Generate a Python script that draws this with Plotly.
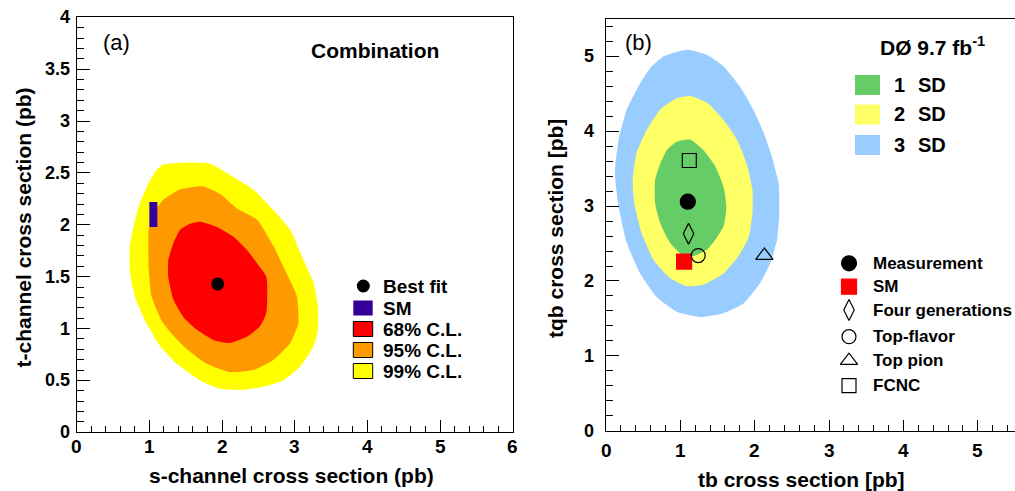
import plotly.graph_objects as go

W, H = 1015, 491
FONT = "Liberation Sans, Arial, Helvetica, sans-serif"

# ---------------- Panel (a): s-channel vs t-channel ----------------
cl99_s = [1.19, 1.50, 1.83, 2.11, 2.43, 2.71, 2.94, 3.12, 3.26, 3.32, 3.32, 3.26, 3.07, 2.84,
          2.57, 2.29, 1.97, 1.70, 1.38, 1.15, 0.96, 0.80, 0.73, 0.73, 0.78, 0.87, 1.01, 1.10]
cl99_t = [2.58, 2.60, 2.59, 2.48, 2.34, 2.14, 1.95, 1.66, 1.44, 1.21, 0.99, 0.83, 0.63, 0.50,
          0.44, 0.41, 0.42, 0.50, 0.66, 0.83, 1.05, 1.31, 1.56, 1.79, 1.98, 2.21, 2.43, 2.53]
cl95_s = [1.42, 1.74, 1.97, 2.20, 2.48, 2.71, 2.89, 3.03, 3.05, 2.94, 2.71, 2.43, 2.11, 1.79,
          1.47, 1.19, 1.03, 0.99, 0.99, 1.05, 1.19]
cl95_t = [2.34, 2.37, 2.30, 2.16, 2.05, 1.79, 1.53, 1.31, 1.05, 0.86, 0.70, 0.60, 0.58, 0.66,
          0.83, 1.05, 1.31, 1.60, 1.95, 2.11, 2.24]
cl68_s = [1.70, 1.93, 2.15, 2.34, 2.48, 2.61, 2.61, 2.52, 2.34, 2.11, 1.88, 1.65, 1.47, 1.33,
          1.26, 1.26, 1.33, 1.42, 1.56]
cl68_t = [2.03, 1.98, 1.89, 1.76, 1.63, 1.50, 1.15, 1.02, 0.92, 0.86, 0.89, 0.99, 1.11, 1.28,
          1.50, 1.66, 1.82, 1.95, 2.01]
best_fit_s = [1.94]
best_fit_t = [1.43]
sm_s_range = [1.00, 1.11]
sm_t_range = [1.98, 2.22]
legend_a_labels = ["Best fit", "SM", "68% C.L.", "95% C.L.", "99% C.L."]
legend_a_colors = ["black", "#330099", "#FF0000", "#FF9900", "#FFFF00"]
a_xticks = [0, 1, 2, 3, 4, 5, 6]
a_xtick_labels = ["0", "1", "2", "3", "4", "5", "6"]
a_yticks = [0, 0.5, 1, 1.5, 2, 2.5, 3, 3.5, 4]
a_ytick_labels = ["0", "0.5", "1", "1.5", "2", "2.5", "3", "3.5", "4"]

# ---------------- Panel (b): tb vs tqb ----------------
sd3_tb = [0.77, 1.09, 1.36, 1.58, 1.80, 1.98, 2.12, 2.23, 2.32, 2.33, 2.30, 2.21, 2.07, 1.85,
          1.58, 1.27, 0.95, 0.68, 0.46, 0.28, 0.17, 0.12, 0.17, 0.28, 0.46, 0.59]
sd3_tqb = [5.00, 5.09, 5.02, 4.87, 4.60, 4.29, 3.98, 3.66, 3.31, 2.91, 2.55, 2.24, 1.97, 1.70,
           1.57, 1.52, 1.59, 1.79, 2.10, 2.51, 2.99, 3.44, 3.89, 4.29, 4.64, 4.84]
sd2_tb = [0.95, 1.13, 1.36, 1.58, 1.76, 1.89, 1.97, 1.97, 1.92, 1.78, 1.58, 1.31, 1.09, 0.86,
          0.64, 0.48, 0.38, 0.36, 0.41, 0.55, 0.73]
sd2_tqb = [4.44, 4.47, 4.38, 4.15, 3.89, 3.57, 3.22, 2.91, 2.59, 2.33, 2.10, 1.95, 1.93, 2.04,
           2.28, 2.64, 3.04, 3.35, 3.71, 4.02, 4.29]
sd1_tb = [0.95, 1.13, 1.31, 1.47, 1.58, 1.62, 1.58, 1.47, 1.36, 1.17, 1.00, 0.86, 0.73, 0.66,
          0.66, 0.73, 0.82]
sd1_tqb = [3.86, 3.89, 3.75, 3.53, 3.26, 2.99, 2.73, 2.55, 2.42, 2.33, 2.37, 2.51, 2.77, 3.04,
           3.35, 3.57, 3.75]
model_names = ["Measurement", "SM", "Four generations", "Top-flavor", "Top pion", "FCNC"]
model_tb = [1.10, 1.05, 1.11, 1.24, 2.13, 1.12]
model_tqb = [3.06, 2.26, 2.63, 2.34, 2.34, 3.61]
model_symbols = ["circle", "square", "diamond-tall-open", "circle-open", "triangle-up-open", "square-open"]
model_colors = ["black", "#FF0000", "black", "black", "black", "black"]
model_sizes = [15, 15, 15, 14, 15, 14]
sd_numbers = ["1", "2", "3"]
sd_unit = "SD"
sd_colors = ["#66CC66", "#FFFF66", "#99CCFF"]
b_xticks = [0, 1, 2, 3, 4, 5]
b_xtick_labels = ["0", "1", "2", "3", "4", "5"]
b_yticks = [0, 1, 2, 3, 4, 5]
b_ytick_labels = ["0", "1", "2", "3", "4", "5"]


def px(x):
    return x / W


def py(y):
    return 1 - y / H


def region(x, y, color, xa, ya):
    return go.Scatter(x=x + x[:1], y=y + y[:1], mode="lines", fill="toself", fillcolor=color,
                      line=dict(width=0, color=color, shape="spline", smoothing=0.5),
                      xaxis=xa, yaxis=ya, hoverinfo="skip", showlegend=False)


fig = go.Figure()

# panel (a)
fig.add_trace(region(cl99_s, cl99_t, legend_a_colors[4], "x", "y"))
fig.add_trace(region(cl95_s, cl95_t, legend_a_colors[3], "x", "y"))
fig.add_trace(region(cl68_s, cl68_t, legend_a_colors[2], "x", "y"))
fig.add_trace(go.Scatter(
    x=[sm_s_range[0], sm_s_range[1], sm_s_range[1], sm_s_range[0], sm_s_range[0]],
    y=[sm_t_range[0], sm_t_range[0], sm_t_range[1], sm_t_range[1], sm_t_range[0]],
    mode="lines", fill="toself", fillcolor=legend_a_colors[1], line=dict(width=0),
    xaxis="x", yaxis="y", showlegend=False, hoverinfo="skip"))
fig.add_trace(go.Scatter(x=best_fit_s, y=best_fit_t, mode="markers",
                         marker=dict(symbol="circle", size=13, color="black"),
                         xaxis="x", yaxis="y", showlegend=False))

# panel (b)
fig.add_trace(region(sd3_tb, sd3_tqb, sd_colors[2], "x2", "y2"))
fig.add_trace(region(sd2_tb, sd2_tqb, sd_colors[1], "x2", "y2"))
fig.add_trace(region(sd1_tb, sd1_tqb, sd_colors[0], "x2", "y2"))
for i in range(len(model_names)):
    fig.add_trace(go.Scatter(
        x=[model_tb[i]], y=[model_tqb[i]], mode="markers",
        marker=dict(symbol=model_symbols[i], size=model_sizes[i], color=model_colors[i],
                    line=dict(width=1.2, color="black" if "open" in model_symbols[i] else model_colors[i])),
        xaxis="x2", yaxis="y2", showlegend=False))

annotations = []
shapes = []


def ann(text, x, y, size, bold=True, angle=0, xanchor="center", xref="paper", yref="paper"):
    annotations.append(dict(text=text, xref=xref, yref=yref,
                            x=px(x) if xref == "paper" else x,
                            y=py(y) if yref == "paper" else y,
                            xanchor=xanchor, yanchor="middle", showarrow=False, textangle=angle,
                            font=dict(family=FONT, size=size, color="black",
                                      weight=700 if bold else 400)))


# tick labels (bold, drawn as text at the axis tick values)
for v, lab in zip(a_xticks, a_xtick_labels):
    ann(lab, v, 446.5, 19, xref="x")
for v, lab in zip(a_yticks, a_ytick_labels):
    ann(lab, 71.5, v, 18, xanchor="right", yref="y")
for v, lab in zip(b_xticks, b_xtick_labels):
    ann(lab, v, 450, 19, xref="x2")
for v, lab in zip(b_yticks, b_ytick_labels):
    ann(lab, 596, v, 18, xanchor="right", yref="y2")

# legend (a)
leg_a_y = [286, 308, 329, 350, 371]
fig.add_trace(go.Scatter(x=[363.3], y=[leg_a_y[0]], mode="markers",
                         marker=dict(symbol="circle", size=13, color="black"),
                         xaxis="x3", yaxis="y3", showlegend=False))
for i in range(1, 5):
    shapes.append(dict(type="rect", xref="paper", yref="paper",
                       x0=px(353.3), x1=px(372.7), y0=py(leg_a_y[i] - 7.5), y1=py(leg_a_y[i] + 7.5),
                       fillcolor=legend_a_colors[i],
                       line=dict(width=1 if i > 1 else 0, color="black")))
for i, lab in enumerate(legend_a_labels):
    ann(lab, 381, leg_a_y[i], 19, xanchor="left")

# legend (b) upper
leg_b1_y = [85, 114.5, 145]
for i in range(3):
    shapes.append(dict(type="rect", xref="paper", yref="paper",
                       x0=px(855), x1=px(880), y0=py(leg_b1_y[i] - 10), y1=py(leg_b1_y[i] + 10),
                       fillcolor=sd_colors[i], line=dict(width=0)))
    ann(sd_numbers[i], 892, leg_b1_y[i], 20, xanchor="left")
    ann(sd_unit, 916, leg_b1_y[i], 20, xanchor="left")

# legend (b) lower
leg_b2_y = [263.3, 286.7, 310, 336.7, 360.7, 385.7]
for i in range(len(model_names)):
    fig.add_trace(go.Scatter(
        x=[849], y=[leg_b2_y[i]], mode="markers",
        marker=dict(symbol=model_symbols[i], size=model_sizes[i], color=model_colors[i],
                    line=dict(width=1.2, color="black" if "open" in model_symbols[i] else model_colors[i])),
        xaxis="x3", yaxis="y3", showlegend=False))
    ann(model_names[i], 870.5, leg_b2_y[i], 17, xanchor="left")

ann("Combination", 309, 50, 21, xanchor="left")
ann("(a)", 101, 43, 22, bold=False, xanchor="left")
ann("(b)", 623, 43, 22, bold=False, xanchor="left")
ann("DØ 9.7 fb<sup>-1</sup>", 878, 46, 21, xanchor="left")
ann("s-channel cross section (pb)", 291.5, 475, 21)
ann("t-channel cross section (pb)", 23, 227.5, 21, angle=-90)
ann("tb cross section [pb]", 801, 479, 21)
ann("tqb cross section [pb]", 556, 229, 21, angle=-90)

common = dict(showgrid=False, zeroline=False, showline=True, linecolor="black", linewidth=1,
              mirror=True, ticks="inside", tickcolor="black", tickwidth=1, fixedrange=True,
              showticklabels=False)

fig.update_layout(
    width=W, height=H,
    margin=dict(l=0, r=0, t=0, b=0),
    paper_bgcolor="white", plot_bgcolor="rgba(0,0,0,0)",
    showlegend=False,
    xaxis=dict(domain=[px(76.7), px(512.7)], range=[0, 6], tickvals=a_xticks, ticklen=12,
               minor=dict(dtick=0.2, ticklen=6, ticks="inside", tickcolor="black"),
               anchor="y", **common),
    yaxis=dict(domain=[py(432.3), py(17.3)], range=[0, 4], tickvals=a_yticks, ticklen=13,
               minor=dict(dtick=0.1, ticklen=7, ticks="inside", tickcolor="black"),
               anchor="x", **common),
    xaxis2=dict(domain=[px(606), 1.0], range=[0, 5.5], tickvals=b_xticks, ticklen=11,
                minor=dict(dtick=0.2, ticklen=6, ticks="inside", tickcolor="black"),
                anchor="y2", **common),
    yaxis2=dict(domain=[py(430.7), py(19)], range=[0, 5.5], tickvals=b_yticks, ticklen=13,
                minor=dict(dtick=0.2, ticklen=7, ticks="inside", tickcolor="black"),
                anchor="x2", **common),
    xaxis3=dict(domain=[0, 1], range=[0, W], visible=False, anchor="y3", fixedrange=True),
    yaxis3=dict(domain=[0, 1], range=[H, 0], visible=False, anchor="x3", fixedrange=True),
    annotations=annotations,
    shapes=shapes,
)

fig.write_html("out.html")
